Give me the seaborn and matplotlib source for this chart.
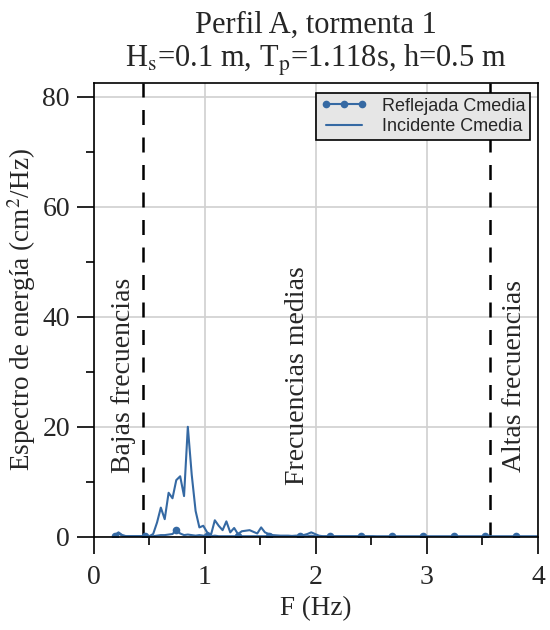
import numpy as np
import pandas as pd
import matplotlib
matplotlib.use("Agg")
import matplotlib.pyplot as plt
import seaborn as sns
from matplotlib.ticker import MultipleLocator

# === Data ===
freq = [0.190, 0.225, 0.259, 0.294, 0.329, 0.364, 0.398, 0.433, 0.468, 0.502,
        0.537, 0.572, 0.606, 0.641, 0.676, 0.711, 0.745, 0.780, 0.815, 0.849,
        0.884, 0.919, 0.953, 0.988, 1.023, 1.058, 1.092, 1.127, 1.162, 1.196,
        1.231, 1.266, 1.300, 1.335, 1.370, 1.405, 1.439, 1.474, 1.509, 1.543,
        1.578, 1.613, 1.647, 1.682, 1.717, 1.752, 1.786, 1.821, 1.856, 1.890,
        1.925, 1.960, 1.994, 2.029, 2.064, 2.099, 2.133, 2.168, 2.203, 2.237,
        2.272, 2.307, 2.341, 2.376, 2.411, 2.445, 2.480, 2.515, 2.550, 2.584,
        2.619, 2.654, 2.688, 2.723, 2.758, 2.792, 2.827, 2.862, 2.897, 2.931,
        2.966, 3.001, 3.035, 3.070, 3.105, 3.139, 3.174, 3.209, 3.244, 3.278,
        3.313, 3.348, 3.382, 3.417, 3.452, 3.486, 3.521, 3.556, 3.591, 3.625,
        3.660, 3.695, 3.729, 3.764, 3.799, 3.833, 3.868, 3.903, 3.938, 3.972,
        4.007]

incidente = [0.3, 0.8, 0.3, 0.1, 0.1, 0.1, 0.1, 0.1, 0.1, 0.1,
             0.5, 2.6, 5.3, 3.2, 8.0, 7.0, 10.3, 11.0, 7.4, 20.0,
             11.3, 4.7, 1.7, 2.0, 0.8, 0.4, 3.0, 2.0, 1.2, 2.8,
             0.8, 1.6, 0.5, 1.0, 1.1, 1.2, 0.9, 0.6, 1.7, 0.8,
             0.5, 0.3, 0.25, 0.2, 0.2, 0.2, 0.15, 0.2, 0.2, 0.3,
             0.5, 0.8, 0.5, 0.2, 0.1, 0.1, 0.1, 0.1, 0.1, 0.1,
             0.1, 0.1, 0.1, 0.1, 0.1, 0.1, 0.1, 0.1, 0.05, 0.05,
             0.05, 0.05, 0.05, 0.05, 0.05, 0.05, 0.05, 0.05, 0.05, 0.05,
             0.05, 0.05, 0.05, 0.05, 0.05, 0.05, 0.05, 0.05, 0.05, 0.05,
             0.05, 0.05, 0.05, 0.05, 0.05, 0.05, 0.05, 0.05, 0.05, 0.05,
             0.05, 0.05, 0.05, 0.05, 0.05, 0.05, 0.05, 0.05, 0.05, 0.05,
             0.05]

reflejada = [0.2, 0.6, 0.2, 0.1, 0.1, 0.1, 0.1, 0.1, 0.1, 0.1,
             0.1, 0.2, 0.3, 0.3, 0.4, 0.5, 1.2, 0.6, 0.3, 0.4,
             0.3, 0.2, 0.3, 0.2, 0.1, 0.1, 0.2, 0.1, 0.1, 0.1,
             0.1, 0.1, 0.1, 0.1, 0.1, 0.1, 0.1, 0.1, 0.1, 0.1,
             0.1, 0.1, 0.1, 0.1, 0.1, 0.1, 0.1, 0.1, 0.1, 0.1,
             0.1, 0.2, 0.1, 0.1, 0.05, 0.05, 0.05, 0.05, 0.05, 0.05,
             0.05, 0.05, 0.05, 0.05, 0.05, 0.05, 0.05, 0.05, 0.05, 0.05,
             0.05, 0.05, 0.05, 0.05, 0.05, 0.05, 0.05, 0.05, 0.05, 0.05,
             0.05, 0.05, 0.05, 0.05, 0.05, 0.05, 0.05, 0.05, 0.05, 0.05,
             0.05, 0.05, 0.05, 0.05, 0.05, 0.05, 0.05, 0.05, 0.05, 0.05,
             0.05, 0.05, 0.05, 0.05, 0.05, 0.05, 0.05, 0.05, 0.05, 0.05,
             0.05]

limites = [0.45, 3.57]
rotulos = ["Bajas frecuencias", "Frecuencias medias", "Altas frecuencias"]
rotulos_x = [0.27, 1.84, 3.79]
rotulos_y = [29.3, 29.3, 29.3]

df = pd.DataFrame({"F": freq, "inc": incidente, "ref": reflejada})

# === Style ===
sns.set_style("whitegrid")
plt.rcParams["font.family"] = ["Liberation Serif", "DejaVu Serif"]
plt.rcParams["mathtext.fontset"] = "stix"
color = "#3569a3"

fig = plt.figure(figsize=(5.5, 6.3), dpi=100)
ax = fig.add_axes([0.170, 0.148, 0.808, 0.720])

sns.lineplot(data=df, x="F", y="ref", ax=ax, color=color, lw=1.5,
             marker="o", markersize=5.5, markevery=8, markeredgewidth=0,
             label="Reflejada Cmedia")
sns.lineplot(data=df, x="F", y="inc", ax=ax, color=color, lw=1.5,
             label="Incidente Cmedia")

for xv in limites:
    ax.axvline(xv, color="black", ls=(0, (6, 5)), lw=1.8, zorder=1)

for t, xv, yv in zip(rotulos, rotulos_x, rotulos_y):
    ax.text(xv, yv, t, rotation=90, ha="center", va="center", fontsize=20)

ax.set_xlim(0, 4)
ax.set_ylim(0, 82.5)
ax.xaxis.set_major_locator(MultipleLocator(1))
ax.xaxis.set_minor_locator(MultipleLocator(0.5))
ax.yaxis.set_major_locator(MultipleLocator(20))
ax.yaxis.set_minor_locator(MultipleLocator(10))
ax.grid(True, which="major", color="#d0d0d0", lw=1.2)
ax.grid(False, which="minor")
ax.tick_params(which="both", direction="out", color="black", labelsize=20,
               bottom=True, left=True)
ax.tick_params(which="major", length=12, width=1.2, pad=5)
ax.tick_params(axis="x", which="major", pad=8)
ax.tick_params(which="minor", length=5.5, width=1.2)
for s in ax.spines.values():
    s.set_color("black")
    s.set_linewidth(1.2)

ax.set_xlabel("F (Hz)", fontsize=19.5, labelpad=5)
ax.set_ylabel("Espectro de energía (cm$^2$/Hz)", fontsize=19.5, labelpad=3)
ax.set_title("Perfil A, tormenta 1\nH$_\\mathrm{s}$=0.1 m, T$_\\mathrm{p}$=1.118s, h=0.5 m",
             fontsize=22, pad=12, linespacing=1.1)

leg = ax.legend(loc="upper right", bbox_to_anchor=(0.982, 0.978),
                numpoints=3, fancybox=False, framealpha=1,
                prop={"family": "Liberation Sans", "size": 13},
                borderpad=0.25, labelspacing=0.2, handlelength=2.6,
                handletextpad=0.8, borderaxespad=0)
leg.get_frame().set_facecolor("#e6e6e6")
leg.get_frame().set_edgecolor("black")
leg.get_frame().set_linewidth(1.2)

fig.savefig("out.png", dpi=100)
